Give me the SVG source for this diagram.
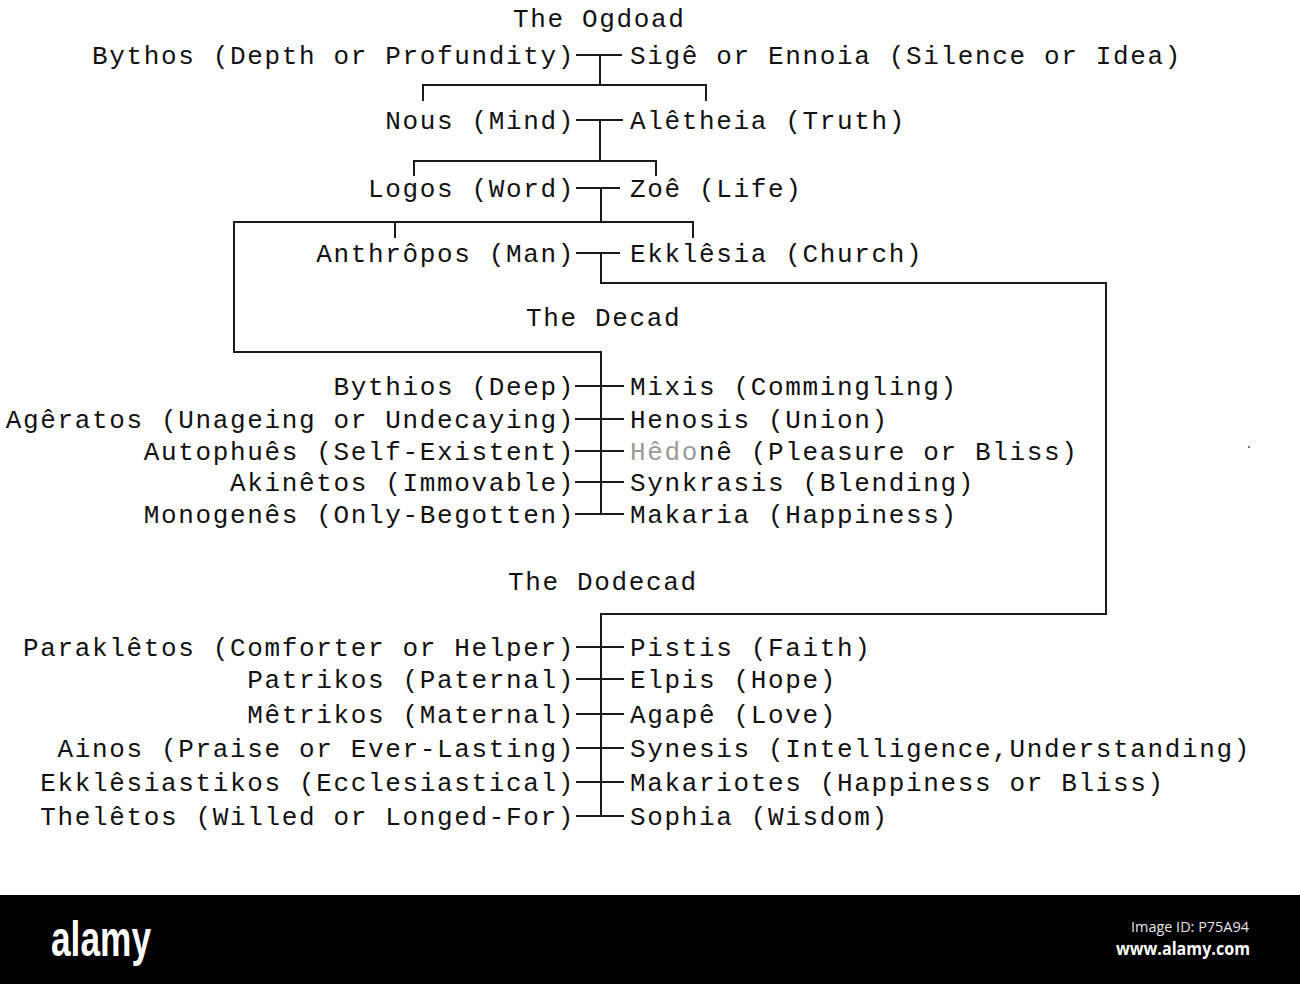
<svg xmlns="http://www.w3.org/2000/svg" width="1300" height="984" viewBox="0 0 1300 984">
<style>
  .t { font-family: "Liberation Mono", "DejaVu Sans Mono", monospace; font-size: 26px; letter-spacing: 1.65px; fill: #111; }
  .l { text-anchor: end; }
  .h { font-family: "Liberation Mono", "DejaVu Sans Mono", monospace; font-size: 26px; letter-spacing: 1.65px; fill: #111; }
  .c { stroke: #1a1a1a; stroke-width: 2; fill: none; stroke-linecap: square; }
  .g { fill: #9a9a9a; }
</style>
<rect x="0" y="0" width="1300" height="984" fill="#ffffff"/>

<g id="connectors">
  <!-- Ogdoad -->
  <path class="c" d="M577 55 H621 M600 55 V85 M423 85 H706 M423 85 V100 M706 85 V100"/>
  <path class="c" d="M577 120 H622 M600 120 V161 M414 161 H656 M414 161 V175 M656 161 V175"/>
  <path class="c" d="M577 188 H619 M601 188 V222 M234 222 H693 M395 222 V237 M693 222 V237"/>
  <path class="c" d="M234 222 V352 H601"/>
  <path class="c" d="M577 253 H619 M601 253 V283 H1106 V614 H601"/>
  <!-- Decad -->
  <path class="c" d="M601 352 V514"/>
  <path class="c" d="M576 386 H623 M576 419 H623 M576 451 H623 M576 482 H623 M576 514 H623"/>
  <!-- Dodecad -->
  <path class="c" d="M601 614 V816"/>
  <path class="c" d="M577 647 H623 M577 679 H623 M577 714 H623 M577 748 H623 M577 782 H623 M577 816 H623"/>
</g>

<g id="headers">
  <text id="h-ogdoad" class="h" x="513" y="27">The Ogdoad</text>
  <text id="h-decad" class="h" x="526" y="326">The Decad</text>
  <text id="h-dodecad" class="h" x="508" y="590">The Dodecad</text>
</g>

<g id="ogdoad">
  <g id="n-bythos"><text class="t l" x="575" y="64">Bythos (Depth or Profundity)</text></g>
  <g id="n-sige"><text class="t" x="630" y="64">Sigê or Ennoia (Silence or Idea)</text></g>
  <g id="n-nous"><text class="t l" x="575" y="129">Nous (Mind)</text></g>
  <g id="n-aletheia"><text class="t" x="630" y="129">Alêtheia (Truth)</text></g>
  <g id="n-logos"><text class="t l" x="575" y="197">Logos (Word)</text></g>
  <g id="n-zoe"><text class="t" x="630" y="197">Zoê (Life)</text></g>
  <g id="n-anthropos"><text class="t l" x="575" y="262">Anthrôpos (Man)</text></g>
  <g id="n-ekklesia"><text class="t" x="630" y="262">Ekklêsia (Church)</text></g>
</g>

<g id="decad">
  <g id="n-bythios"><text class="t l" x="575" y="395">Bythios (Deep)</text></g>
  <g id="n-mixis"><text class="t" x="630" y="395">Mixis (Commingling)</text></g>
  <g id="n-ageratos"><text class="t l" x="575" y="428">Agêratos (Unageing or Undecaying)</text></g>
  <g id="n-henosis"><text class="t" x="630" y="428">Henosis (Union)</text></g>
  <g id="n-autophues"><text class="t l" x="575" y="460">Autophuês (Self-Existent)</text></g>
  <g id="n-hedone"><text class="t" x="630" y="460"><tspan class="g">Hêdo</tspan>nê (Pleasure or Bliss)</text></g>
  <g id="n-akinetos"><text class="t l" x="575" y="491">Akinêtos (Immovable)</text></g>
  <g id="n-synkrasis"><text class="t" x="630" y="491">Synkrasis (Blending)</text></g>
  <g id="n-monogenes"><text class="t l" x="575" y="523">Monogenês (Only-Begotten)</text></g>
  <g id="n-makaria"><text class="t" x="630" y="523">Makaria (Happiness)</text></g>
</g>

<g id="dodecad">
  <g id="n-parakletos"><text class="t l" x="575" y="656">Paraklêtos (Comforter or Helper)</text></g>
  <g id="n-pistis"><text class="t" x="630" y="656">Pistis (Faith)</text></g>
  <g id="n-patrikos"><text class="t l" x="575" y="688">Patrikos (Paternal)</text></g>
  <g id="n-elpis"><text class="t" x="630" y="688">Elpis (Hope)</text></g>
  <g id="n-metrikos"><text class="t l" x="575" y="723">Mêtrikos (Maternal)</text></g>
  <g id="n-agape"><text class="t" x="630" y="723">Agapê (Love)</text></g>
  <g id="n-ainos"><text class="t l" x="575" y="757">Ainos (Praise or Ever-Lasting)</text></g>
  <g id="n-synesis"><text class="t" x="630" y="757">Synesis (Intelligence,Understanding)</text></g>
  <g id="n-ekklesiastikos"><text class="t l" x="575" y="791">Ekklêsiastikos (Ecclesiastical)</text></g>
  <g id="n-makariotes"><text class="t" x="630" y="791">Makariotes (Happiness or Bliss)</text></g>
  <g id="n-theletos"><text class="t l" x="575" y="825">Thelêtos (Willed or Longed-For)</text></g>
  <g id="n-sophia"><text class="t" x="630" y="825">Sophia (Wisdom)</text></g>
</g>

<rect x="1248" y="446" width="2" height="2" fill="#777"/>

<g id="footer">
  <rect x="0" y="895" width="1300" height="89" fill="#000"/>
  <text x="51" y="956" font-family="Liberation Sans, Arial, sans-serif" font-weight="bold" font-size="50" fill="#fff" textLength="100" lengthAdjust="spacingAndGlyphs">alamy</text>
  <text x="1131" y="932" font-family="Open Sans, Noto Sans, sans-serif" font-size="14" fill="#e6e6e6" textLength="118" lengthAdjust="spacingAndGlyphs">Image ID: P75A94</text>
  <text x="1116" y="955" font-family="Open Sans, Noto Sans, sans-serif" font-weight="bold" font-size="18" fill="#fff" textLength="134" lengthAdjust="spacingAndGlyphs">www.alamy.com</text>
</g>
</svg>
